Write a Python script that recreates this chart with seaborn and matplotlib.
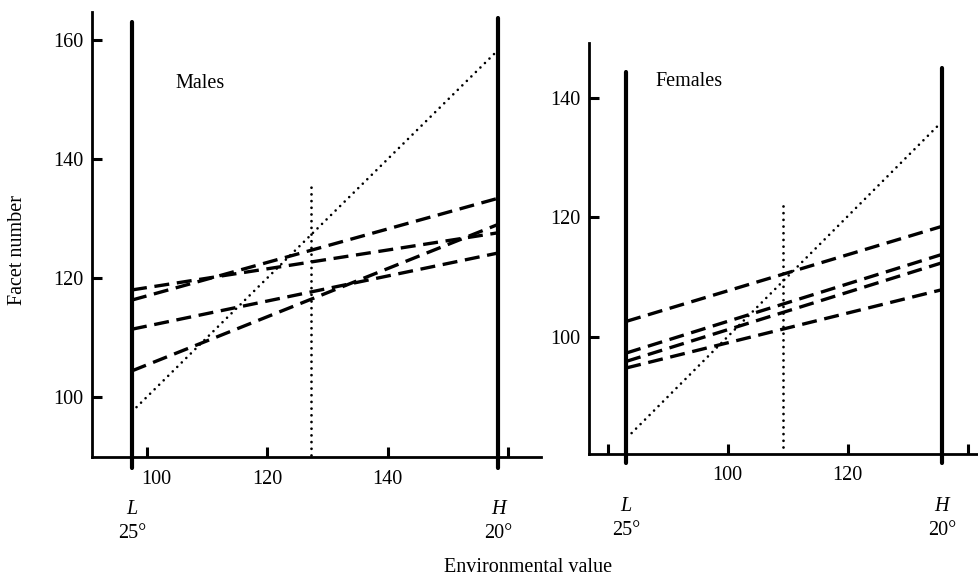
import matplotlib
matplotlib.use("Agg")
import matplotlib.pyplot as plt
import matplotlib.transforms as mtransforms
import seaborn as sns
import pandas as pd

# ---------------- data ----------------
# Males
male_env_L = 97.55
male_env_H = 158.3
male_start = [118.0, 116.3, 111.4, 104.4]
male_end = [127.6, 133.4, 124.2, 129.0]
male_diag_x = [98.3, 158.0]
male_diag_y = [98.3, 158.0]
male_vline_x = 127.3
male_vline_y = [90.3, 135.6]
male_xticks = [100, 120, 140, 160]
male_xticklabels = ["100", "120", "140", ""]
male_yticks = [100, 120, 140, 160]

# Females
fem_env_L = 83.1
fem_env_H = 135.7
fem_start = [102.6, 97.3, 95.9, 94.8]
fem_end = [118.5, 113.8, 112.4, 107.9]
fem_diag_x = [84.0, 135.2]
fem_diag_y = [83.9, 135.5]
fem_vline_x = 109.25
fem_vline_y = [81.6, 122.8]
fem_xticks = [80, 100, 120, 140]
fem_xticklabels = ["", "100", "120", ""]
fem_yticks = [100, 120, 140]

# ---------------- style ----------------
sns.set_style("white")
plt.rcParams["font.family"] = ["Liberation Serif", "DejaVu Serif"]
plt.rcParams["text.color"] = "black"
plt.rcParams["axes.labelcolor"] = "black"
plt.rcParams["xtick.color"] = "black"
plt.rcParams["ytick.color"] = "black"
FS = 14.5

fig = plt.figure(figsize=(9.79, 5.78), dpi=100)

W, Hh = 979.0, 578.0
axM = fig.add_axes([92 / W, 1 - 457 / Hh, (541 - 92) / W, (457 - 12) / Hh])
axF = fig.add_axes([589 / W, 1 - 454 / Hh, (979 - 589) / W, (454 - 43) / Hh])

DASH = (4.5, 2.3)
DOT = (0.01, 2.4)


def draw_panel(ax, envL, envH, starts, ends, dx, dy, vx, vy, ylo_ext, yhi_L, yhi_H,
               xlim, ylim, xticks, xticklabels, yticks, title, title_xy):
    # reaction norms (dashed)
    for a, b in zip(starts, ends):
        df = pd.DataFrame({"env": [envL, envH], "val": [a, b]})
        sns.lineplot(data=df, x="env", y="val", ax=ax, color="black",
                     linewidth=2.4, linestyle=(0, DASH), legend=False)
    # diagonal (dotted)
    sns.lineplot(x=dx, y=dy, ax=ax, color="black", linewidth=1.9,
                 linestyle=(0, DOT), dash_capstyle="round", legend=False)
    # vertical dotted
    sns.lineplot(x=[vx, vx], y=vy, ax=ax, color="black", linewidth=2.0,
                 linestyle=(0, DOT), dash_capstyle="round", legend=False,
                 estimator=None, sort=False)
    # L and H environment bars
    sns.lineplot(x=[envL, envL], y=[ylo_ext, yhi_L], ax=ax, color="black",
                 linewidth=3.0, legend=False, estimator=None, sort=False, clip_on=False)
    sns.lineplot(x=[envH, envH], y=[ylo_ext, yhi_H], ax=ax, color="black",
                 linewidth=3.0, legend=False, estimator=None, sort=False, clip_on=False)

    ax.set_xlim(*xlim)
    ax.set_ylim(*ylim)
    for s in ["top", "right"]:
        ax.spines[s].set_visible(False)
    for s in ["left", "bottom"]:
        ax.spines[s].set_linewidth(2.0)
        ax.spines[s].set_color("black")
    ax.set_xticks(xticks)
    ax.set_xticklabels(xticklabels)
    ax.set_yticks(yticks)
    ax.tick_params(axis="x", bottom=True, direction="in", length=7, width=2.2, pad=9,
                   labelsize=FS, colors="black")
    ax.tick_params(axis="y", left=True, direction="in", length=7, width=2.2, pad=6,
                   labelsize=FS, colors="black")
    ax.set_xlabel("")
    ax.set_ylabel("")
    ax.text(title_xy[0], title_xy[1], title, transform=ax.transAxes,
            fontsize=FS, va="center", ha="left", color="black")
    # L / H annotations
    for xpos, letter, deg in [(envL, "L", "25°"), (envH, "H", "20°")]:
        ax.annotate(letter, xy=(xpos, 0), xycoords=("data", "axes fraction"),
                    xytext=(0, -38), textcoords="offset points",
                    ha="center", va="center", fontsize=FS, style="italic", color="black")
        ax.annotate(deg, xy=(xpos, 0), xycoords=("data", "axes fraction"),
                    xytext=(0, -55), textcoords="offset points",
                    ha="center", va="center", fontsize=FS, color="black")


draw_panel(axM, male_env_L, male_env_H, male_start, male_end,
           male_diag_x, male_diag_y, male_vline_x, male_vline_y,
           88.1, 163.0, 163.7,
           (90.91, 165.44), (89.92, 164.71),
           male_xticks, male_xticklabels, male_yticks,
           "Males", ((175 - 92) / 449, (457 - 83) / 445))

draw_panel(axF, fem_env_L, fem_env_H, fem_start, fem_end,
           fem_diag_x, fem_diag_y, fem_vline_x, fem_vline_y,
           78.9, 144.4, 145.0,
           (76.9, 141.9), (80.4, 149.2),
           fem_xticks, fem_xticklabels, fem_yticks,
           "Females", ((655 - 589) / 390, (454 - 82) / 411))

# shift the male "100" label right (as in reference)
lbl = axM.get_xticklabels()[0]
lbl.set_transform(lbl.get_transform() + mtransforms.ScaledTranslation(10 / 100, 0, fig.dpi_scale_trans))

fig.text(18 / W, 1 - 250 / Hh, "Facet number", rotation=90, ha="center", va="center",
         fontsize=FS, color="black")
fig.text(528 / W, 1 - 568 / Hh, "Environmental value", ha="center", va="center",
         fontsize=FS, color="black")

fig.savefig("out.png", dpi=100)
